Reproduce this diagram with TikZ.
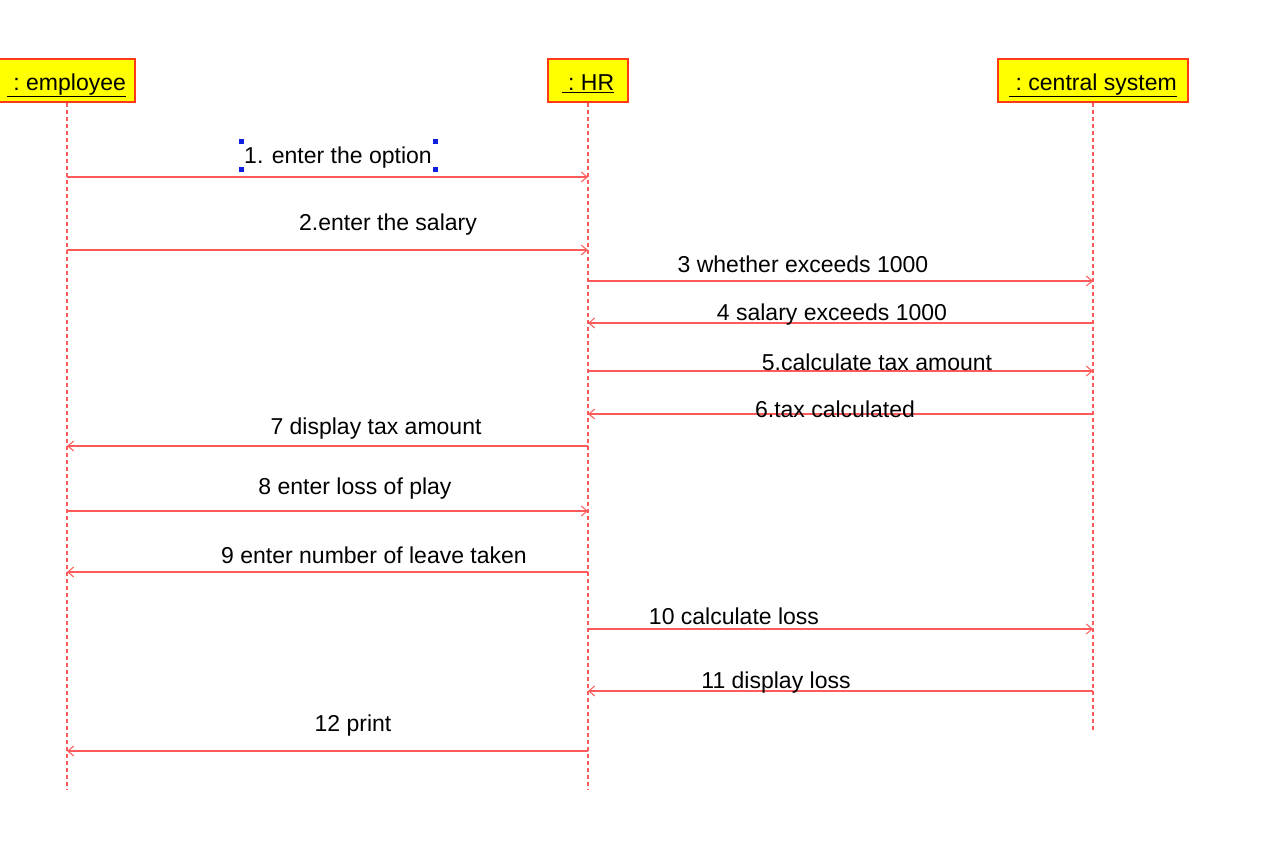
\documentclass[tikz,border=0pt]{standalone}
\usepackage{fontspec}
\setmainfont{Liberation Sans}
\usetikzlibrary{arrows.meta}
\definecolor{lnred}{HTML}{FF5A5A}
\definecolor{boxred}{HTML}{FF3A1A}
\definecolor{boxyel}{HTML}{FFFF00}
\definecolor{selblue}{HTML}{1020E0}
\tikzset{
  obj/.style={draw=boxred, fill=boxyel, line width=1.3pt, minimum height=43pt, inner sep=0pt, text height=21pt, text depth=1pt, font=\fontsize{23}{27}\selectfont},
  life/.style={draw=lnred, line width=1.2pt, dash pattern=on 4pt off 3pt},
  msg/.style={draw=lnred, line width=1.3pt, -{Straight Barb[length=6pt,width=10pt,line width=1pt]}},
  lbl/.style={font=\fontsize{23}{27}\selectfont, inner sep=0pt},
  handle/.style={fill=selblue, minimum size=5pt, inner sep=0pt}
}
\begin{document}
\begin{tikzpicture}[x=1pt,y=-1pt]
\useasboundingbox (0,0) rectangle (1262,868);
% objects
\node[obj, minimum width=137pt] (emp) at (66.5,80.5) {\underline{\ :\ employee}};
\node[obj, minimum width=80pt] (hr) at (588,80.5) {\underline{\ :\ HR}};
\node[obj, minimum width=190pt] (cs) at (1093,80.5) {\underline{\ :\ central system}};
% lifeline ends
\coordinate (empE) at (67,790);
\coordinate (hrE) at (588,790);
\coordinate (csE) at (1093,730);
\draw[life] (emp.south -| empE) -- (empE);
\draw[life] (hr.south -| hrE) -- (hrE);
\draw[life] (cs.south -| csE) -- (csE);
% message points
\foreach \n/\y in {1/177,2/250,3/281,4/323,5/371,6/414,7/446,8/511,9/572,10/629,11/691,12/751}{
  \coordinate (e\n) at (67,\y);
  \coordinate (h\n) at (588,\y);
  \coordinate (c\n) at (1093,\y);
}
\draw[msg] (e1) -- (h1);
\draw[msg] (e2) -- (h2);
\draw[msg] (h3) -- (c3);
\draw[msg] (c4) -- (h4);
\draw[msg] (h5) -- (c5);
\draw[msg] (c6) -- (h6);
\draw[msg] (h7) -- (e7);
\draw[msg] (e8) -- (h8);
\draw[msg] (h9) -- (e9);
\draw[msg] (h10) -- (c10);
\draw[msg] (c11) -- (h11);
\draw[msg] (h12) -- (e12);
% labels
\node[lbl] (l1) at (338,158) {1. enter the option};
\node[lbl] (l2) at (388,225) {2.enter the salary};
\node[lbl] (l3) at (803,264) {3 whether exceeds 1000};
\node[lbl] (l4) at (832,315) {4 salary exceeds 1000};
\node[lbl] (l5) at (877,362) {5.calculate tax amount};
\node[lbl] (l6) at (835,409) {6.tax calculated};
\node[lbl] (l7) at (376,429) {7 display tax amount};
\node[lbl] (l8) at (355,489) {8 enter loss of play};
\node[lbl] (l9) at (374,555) {9 enter number of leave taken};
\node[lbl] (l10) at (734,616) {10 calculate loss};
\node[lbl] (l11) at (776,683) {11 display loss};
\node[lbl] (l12) at (353,726) {12 print};
% selection handles
\node[handle] (s1) at (241,141) {};
\node[handle] (s2) at (241,169) {};
\node[handle] (s3) at (435,141) {};
\node[handle] (s4) at (435,169) {};
\end{tikzpicture}
\end{document}
